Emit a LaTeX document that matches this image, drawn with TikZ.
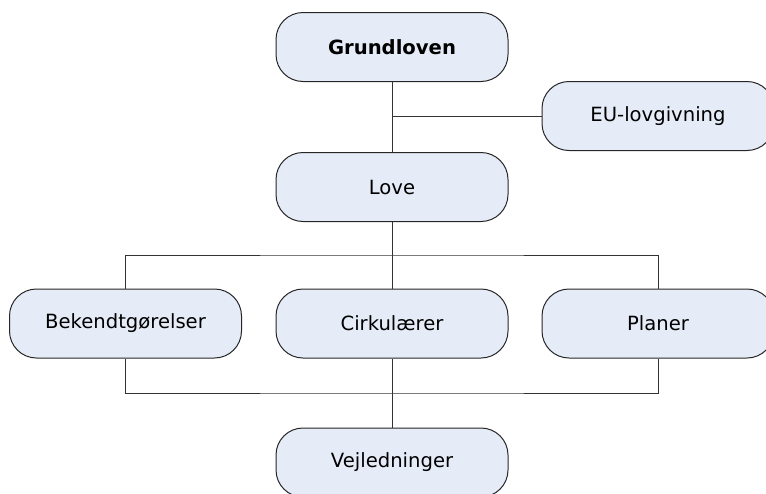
\documentclass[tikz,border=0pt]{standalone}
\usepackage{fontspec}
\setmainfont{DejaVu Sans}
\usepackage{xcolor}
\usepackage{tikz}
\usetikzlibrary{calc}
\definecolor{boxfill}{RGB}{230,236,247}
\tikzstyle{blk}=[rectangle, draw=black!85, fill=boxfill,% rounded boxes
line width=1pt, rounded corners=27pt, minimum width=232pt, minimum height=69pt,
font=\fontsize{19.6}{23}\selectfont]
\tikzstyle{tree}=[line width=1pt, draw=black!80]

\begin{document}
\begin{tikzpicture}[x=1pt,y=-1pt]
\clip (0,0) rectangle (766,493);
\node[blk, font=\fontsize{19.6}{23}\selectfont\bfseries] (GL) at (392, 47) {Grundloven};
\node[blk] (EU) at (658, 116) {EU-lovgivning};
\node[blk] (LO) at (392, 187) {Love};
\node[blk] (BK) at (125.5, 323.5) {Bekendtgørelser};
\node[blk] (CI) at (392, 323.5) {Cirkulærer};
\node[blk] (PL) at (658, 323.5) {Planer};
\node[blk] (VJ) at (392, 462.5) {Vejledninger};
\coordinate (gj) at (392, 116);
\coordinate (top) at (392, 255);
\coordinate (bot) at (392, 393);
\draw[tree] (GL) -- (LO);
\draw[tree] (gj) -- (EU);
\draw[tree] (LO) -- (CI);
\draw[tree] (BK.north) |- (top) -| (PL.north);
\draw[tree] (BK.south) |- (bot) -| (PL.south);
\draw[tree] (CI) -- (VJ);
\end{tikzpicture}
\end{document}
